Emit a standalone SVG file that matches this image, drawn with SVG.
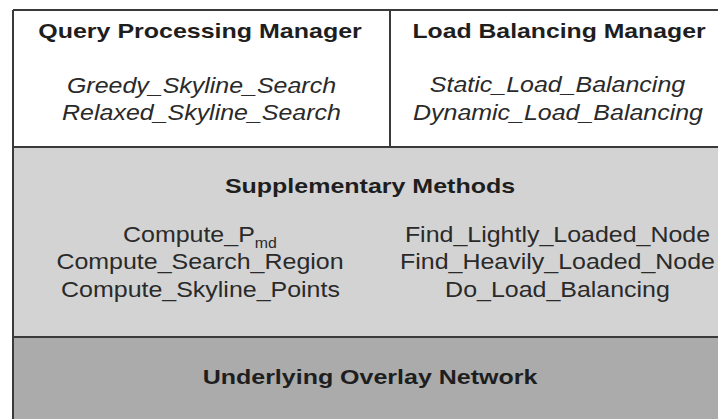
<svg xmlns="http://www.w3.org/2000/svg" width="718" height="419" viewBox="0 0 718 419">
<style>
.ln{stroke:#3a3a3a;stroke-width:2;fill:none}
.t{font-family:"Liberation Sans",Arial,sans-serif;fill:#1e1e1e;text-anchor:middle}
.b{font-weight:bold;font-size:21px}
.r{font-size:22px;fill:#2a2a2a}
.i{font-style:italic;font-size:22px;fill:#2a2a2a}
.s{text-anchor:start}
</style>
<rect x="0" y="0" width="718" height="419" fill="#ffffff"/>
<g id="query-processing-manager">
<rect x="13" y="10" width="377" height="137" fill="#ffffff"/>
<text class="t b" transform="translate(200,38) scale(1.19,1)">Query Processing Manager</text>
<text class="t i" transform="translate(201.5,93) scale(1.135,1)">Greedy_Skyline_Search</text>
<text class="t i" transform="translate(201.5,120) scale(1.135,1)">Relaxed_Skyline_Search</text>
</g>
<g id="load-balancing-manager">
<rect x="390" y="10" width="328" height="137" fill="#ffffff"/>
<text class="t b" transform="translate(559,38) scale(1.18,1)">Load Balancing Manager</text>
<text class="t i" transform="translate(557.5,92) scale(1.135,1)">Static_Load_Balancing</text>
<text class="t i" transform="translate(558,120) scale(1.135,1)">Dynamic_Load_Balancing</text>
</g>
<g id="supplementary-methods">
<rect x="13" y="147" width="705" height="190" fill="#d3d3d3"/>
<text class="t b" transform="translate(370,193) scale(1.19,1)">Supplementary Methods</text>
<text class="t r s" transform="translate(123,242) scale(1.135,1)">Compute_P<tspan font-size="14" dy="6">md</tspan></text>
<text class="t r" transform="translate(200,269) scale(1.135,1)">Compute_Search_Region</text>
<text class="t r" transform="translate(200.5,297) scale(1.135,1)">Compute_Skyline_Points</text>
<text class="t r" transform="translate(557.5,242) scale(1.135,1)">Find_Lightly_Loaded_Node</text>
<text class="t r" transform="translate(557.5,269) scale(1.135,1)">Find_Heavily_Loaded_Node</text>
<text class="t r" transform="translate(557.5,297) scale(1.135,1)">Do_Load_Balancing</text>
</g>
<g id="underlying-overlay-network">
<rect x="13" y="337" width="705" height="82" fill="#ababab"/>
<text class="t b" transform="translate(370,384) scale(1.19,1)">Underlying Overlay Network</text>
</g>
<g id="borders">
<path class="ln" d="M13 10 H718 M13 10 V419 M390 10 V147 M13 147 H718 M13 337 H718"/>
</g>
</svg>
